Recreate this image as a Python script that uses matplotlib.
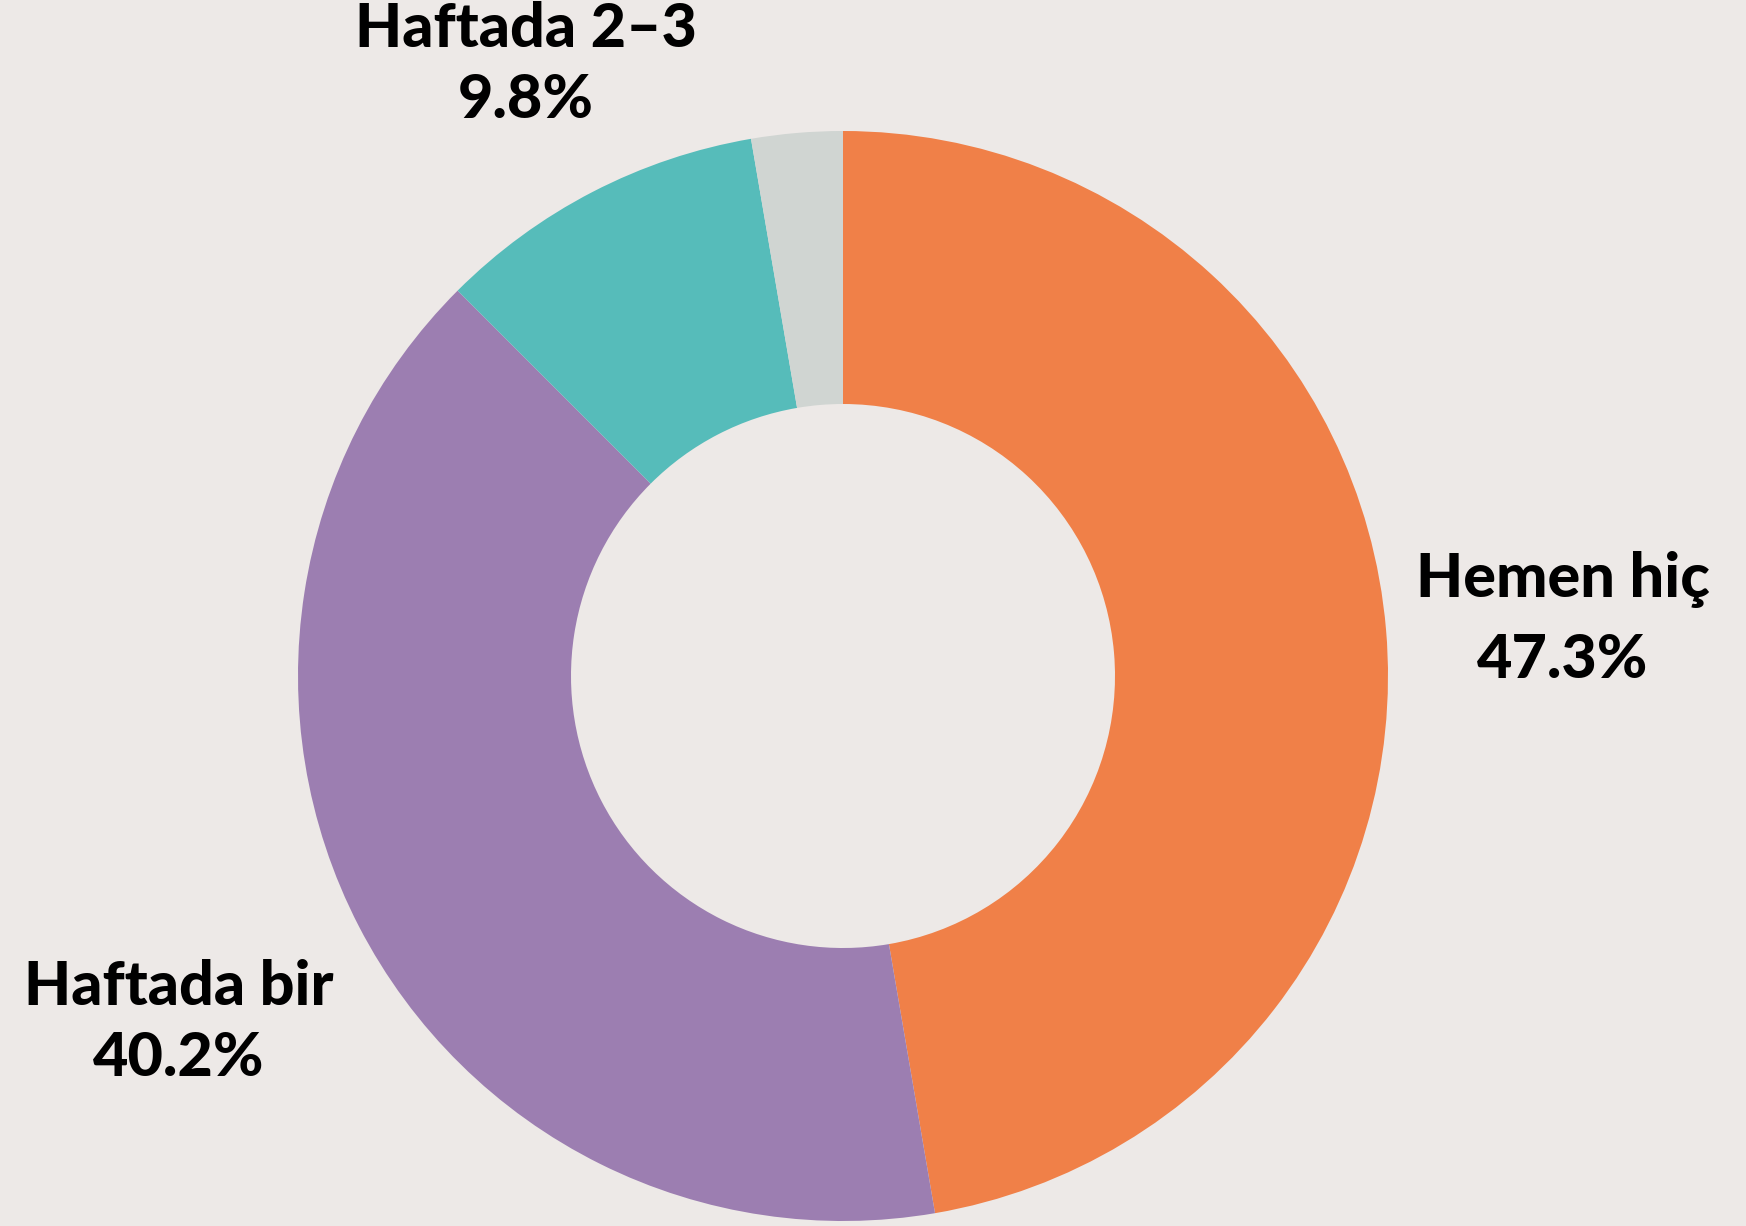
import matplotlib
matplotlib.use("Agg")
import matplotlib.pyplot as plt

categories = ["Hemen hiç", "Haftada bir", "Haftada 2–3", "Diğer"]
values = [47.3, 40.2, 9.8, 2.7]
pct_labels = ["47.3%", "40.2%", "9.8%", None]
colors = ["#F08048", "#9C7EB1", "#56BCBA", "#D0D5D2"]
bg = "#EDE9E7"

W, H = 1746, 1226
fig = plt.figure(figsize=(W / 100, H / 100), dpi=100, facecolor=bg)
ax = fig.add_axes([0, 0, 1, 1])
ax.set_facecolor(bg)

cx, cy = 843, H - 676
R, r_in = 545, 272
ax.pie(values, colors=colors, startangle=90, counterclock=False,
       center=(cx, cy), radius=R,
       wedgeprops=dict(width=R - r_in, linewidth=0))
ax.set_xlim(0, W)
ax.set_ylim(0, H)
ax.set_aspect("auto")
ax.axis("off")

# (x centre, baseline of name line, baseline of percentage line) in pixels from top
label_pos = [(1563, 597, 678), (179, 1005, 1076), (526, 47, 118)]
for name, pct, (x, y1, y2) in zip(categories, pct_labels, label_pos):
    if pct is None:
        continue
    for txt, y in ((name, y1), (pct, y2)):
        ax.text(x, H - y, txt, ha="center", va="baseline", fontsize=44,
                fontweight="black", family=["Lato", "DejaVu Sans"],
                color="black")

fig.savefig("out.png", dpi=100, facecolor=bg)
